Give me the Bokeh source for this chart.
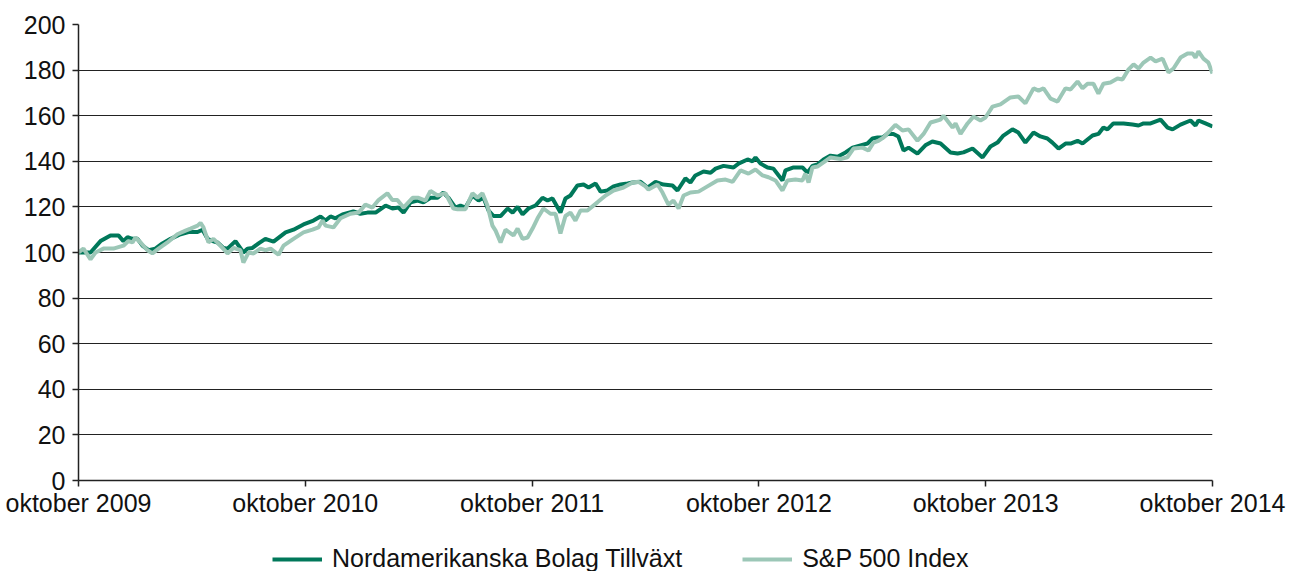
from bokeh.plotting import figure
from bokeh.layouts import column
from bokeh.models import FixedTicker, Legend, LegendItem, Range1d
from bokeh.embed import file_html
from bokeh.resources import INLINE

# decimal years and index values
fund_t = [2009.750, 2009.803, 2009.847, 2009.891, 2009.926, 2009.948, 2009.966, 2009.988, 2010.010, 2010.032,
          2010.059, 2010.089, 2010.120, 2010.156, 2010.200, 2010.235, 2010.275, 2010.297, 2010.319, 2010.341,
          2010.363, 2010.389, 2010.407, 2010.442, 2010.477, 2010.495, 2010.517, 2010.544, 2010.574, 2010.610,
          2010.663, 2010.698, 2010.742, 2010.786, 2010.817, 2010.839, 2010.861, 2010.883, 2010.914, 2010.962,
          2010.993, 2011.024, 2011.060, 2011.104, 2011.134, 2011.161, 2011.183, 2011.214, 2011.245, 2011.271,
          2011.302, 2011.333, 2011.359, 2011.381, 2011.412, 2011.434, 2011.456, 2011.487, 2011.514, 2011.536,
          2011.558, 2011.580, 2011.611, 2011.642, 2011.664, 2011.686, 2011.708, 2011.734, 2011.765, 2011.796,
          2011.818, 2011.840, 2011.875, 2011.897, 2011.919, 2011.950, 2011.977, 2011.999, 2012.030, 2012.052,
          2012.082, 2012.109, 2012.140, 2012.171, 2012.193, 2012.228, 2012.259, 2012.294, 2012.329, 2012.369,
          2012.391, 2012.426, 2012.448, 2012.470, 2012.506, 2012.537, 2012.559, 2012.594, 2012.638, 2012.660,
          2012.700, 2012.722, 2012.735, 2012.757, 2012.788, 2012.814, 2012.854, 2012.867, 2012.903, 2012.942,
          2012.964, 2012.986, 2013.008, 2013.035, 2013.066, 2013.097, 2013.132, 2013.163, 2013.198, 2013.229,
          2013.251, 2013.273, 2013.295, 2013.317, 2013.343, 2013.365, 2013.388, 2013.410, 2013.449, 2013.484,
          2013.515, 2013.551, 2013.595, 2013.626, 2013.652, 2013.692, 2013.736, 2013.771, 2013.802, 2013.828,
          2013.868, 2013.894, 2013.925, 2013.961, 2013.991, 2014.022, 2014.044, 2014.071, 2014.102, 2014.124,
          2014.155, 2014.177, 2014.221, 2014.247, 2014.269, 2014.287, 2014.313, 2014.358, 2014.397, 2014.424,
          2014.446, 2014.477, 2014.521, 2014.552, 2014.574, 2014.609, 2014.653, 2014.675, 2014.688, 2014.719,
          2014.750]
fund_v = [100, 100, 105, 107.5, 107.5, 105, 106.7, 106, 106, 103,
          101, 101.7, 104, 106, 108, 109, 109, 110, 106, 105,
          104.4, 102, 101.7, 105, 100, 101.7, 102, 104, 106, 104.8,
          108.8, 110, 112.3, 114, 115.8, 114, 115.8, 115, 116.7, 118,
          117, 117.5, 117.5, 120.6, 119.3, 119.7, 117.5, 122, 122.8, 122,
          124, 124, 126.3, 124, 119.7, 120.6, 119.7, 125, 122.8, 124,
          118.4, 116, 116, 119.3, 117.5, 120, 116.7, 119.3, 120.6, 124,
          122.8, 123.7, 117.5, 123.7, 125, 129.4, 129.8, 128.5, 130.3, 126.7,
          127.2, 129, 129.8, 130.3, 130.7, 131, 128.5, 131, 129.8, 129.4,
          127.2, 132.5, 130.7, 133.8, 135.5, 135, 136.8, 138, 137.3, 139,
          140.8, 140, 141.7, 139, 137.3, 136.8, 131.6, 136, 137.3, 137.3,
          135, 138, 138.6, 140.8, 142.5, 142, 143.9, 146, 147, 147.8,
          150, 150.4, 150.4, 152, 152, 150.9, 144.7, 146, 143.4, 147,
          148.7, 147.8, 143.9, 143.4, 143.9, 145.6, 141.7, 146.5, 148.2, 151.3,
          154, 152.6, 148.2, 152.6, 150.9, 150, 148.2, 145.6, 147.8, 147.8,
          149, 147.8, 151.3, 152, 154.8, 154, 156.6, 156.6, 156.1, 155.7,
          156.6, 156.6, 158.3, 154.8, 154, 156.1, 157.9, 155.7, 157.9, 156.6,
          155.3]

sp_t = [2009.750, 2009.772, 2009.803, 2009.825, 2009.860, 2009.904, 2009.948, 2009.970, 2009.988, 2010.001,
        2010.023, 2010.054, 2010.076, 2010.103, 2010.142, 2010.186, 2010.222, 2010.244, 2010.275, 2010.288,
        2010.301, 2010.323, 2010.345, 2010.376, 2010.407, 2010.433, 2010.464, 2010.477, 2010.500, 2010.522,
        2010.552, 2010.574, 2010.597, 2010.632, 2010.654, 2010.698, 2010.742, 2010.782, 2010.808, 2010.826,
        2010.839, 2010.874, 2010.905, 2010.949, 2010.985, 2011.015, 2011.046, 2011.073, 2011.112, 2011.134,
        2011.156, 2011.183, 2011.223, 2011.249, 2011.280, 2011.302, 2011.333, 2011.368, 2011.403, 2011.421,
        2011.456, 2011.487, 2011.509, 2011.531, 2011.553, 2011.575, 2011.589, 2011.611, 2011.633, 2011.668,
        2011.686, 2011.708, 2011.730, 2011.752, 2011.774, 2011.800, 2011.831, 2011.853, 2011.875, 2011.897,
        2011.919, 2011.941, 2011.963, 2011.994, 2012.038, 2012.074, 2012.109, 2012.153, 2012.193, 2012.219,
        2012.250, 2012.263, 2012.303, 2012.325, 2012.351, 2012.373, 2012.396, 2012.418, 2012.448, 2012.484,
        2012.523, 2012.567, 2012.603, 2012.634, 2012.669, 2012.704, 2012.735, 2012.766, 2012.792, 2012.823,
        2012.854, 2012.876, 2012.911, 2012.942, 2012.955, 2012.969, 2012.986, 2013.008, 2013.035, 2013.066,
        2013.110, 2013.140, 2013.167, 2013.207, 2013.233, 2013.255, 2013.277, 2013.299, 2013.352, 2013.383,
        2013.410, 2013.449, 2013.476, 2013.507, 2013.551, 2013.564, 2013.604, 2013.617, 2013.639, 2013.670,
        2013.696, 2013.727, 2013.749, 2013.780, 2013.815, 2013.859, 2013.894, 2013.925, 2013.961, 2013.983,
        2014.005, 2014.036, 2014.067, 2014.102, 2014.124, 2014.155, 2014.177, 2014.199, 2014.225, 2014.247,
        2014.269, 2014.300, 2014.331, 2014.353, 2014.380, 2014.402, 2014.424, 2014.446, 2014.477, 2014.499,
        2014.530, 2014.556, 2014.578, 2014.609, 2014.640, 2014.662, 2014.675, 2014.688, 2014.710, 2014.732,
        2014.750]
sp_v = [100, 101.7, 97, 100, 101.7, 101.7, 103, 105, 104.4, 106.6,
        104.4, 101, 99.6, 101.7, 104.4, 108, 109.6, 110.5, 111.8, 113,
        111, 104.4, 106, 103, 99.6, 102, 101, 95.6, 100, 99.6,
        101.7, 101, 101.7, 99, 103, 106, 108.8, 110, 111, 114,
        111.8, 111, 115, 117, 117.5, 121, 119.7, 123, 126, 123,
        123, 119.7, 124, 124, 122.8, 127, 125, 126, 119.3, 119,
        119, 126, 124, 126, 120.6, 111.8, 109.6, 104.4, 110, 107.5,
        110.5, 106, 106.6, 110.5, 115, 119.3, 117, 117, 108.3, 116,
        117.5, 114, 118.4, 118.4, 122, 125, 127.2, 128.5, 130.7, 131,
        129, 127.6, 129.8, 126.3, 121, 122.8, 119.3, 125, 126.3, 126.7,
        129, 131.6, 132, 131, 136, 134.6, 136.4, 133.8, 133, 131.6,
        127.2, 131.6, 132, 131.6, 134.6, 130.7, 137.3, 137.7, 139.5, 141.7,
        141, 141.7, 145.6, 146, 144.7, 148.2, 149, 150.4, 156, 153.5,
        154, 149, 152, 157, 158.3, 160, 154.8, 156.6, 152, 156.6,
        159.6, 157.9, 159.2, 164, 165, 168, 168.4, 165.4, 172, 171,
        172, 167.5, 166.2, 172, 171.5, 175, 172, 174, 174, 169.7,
        174, 174.6, 176.3, 175.9, 180.3, 182.5, 180.7, 183.3, 185.5, 183.8,
        185, 179, 180.7, 185.5, 187.3, 187.3, 185.5, 188.2, 185, 183.3,
        178.5]

series_names = ["Nordamerikanska Bolag Tillväxt", "S&P 500 Index"]
tick_years = [2009, 2010, 2011, 2012, 2013, 2014]
tick_labels = ["oktober 2009", "oktober 2010", "oktober 2011", "oktober 2012", "oktober 2013", "oktober 2014"]
y_ticks = [0, 20, 40, 60, 80, 100, 120, 140, 160, 180, 200]

START = 2009.75
fund_m = [(t - START) * 12 for t in fund_t]
sp_m = [(t - START) * 12 for t in sp_t]
tick_m = [int(round((y + 0.75 - START) * 12)) for y in tick_years]

FONT = "Liberation Sans"
DARK = "#00785a"
LIGHT = "#9cc7b7"

p = figure(width=1290, height=530, output_backend="svg", toolbar_location=None,
           x_range=Range1d(0, 60), y_range=Range1d(0, 200),
           min_border_left=78, min_border_right=78, min_border_top=24, min_border_bottom=50)
p.outline_line_color = None
p.background_fill_color = "white"

r1 = p.line(fund_m, fund_v, line_color=DARK, line_width=4)
r2 = p.line(sp_m, sp_v, line_color=LIGHT, line_width=4)

p.xaxis.ticker = FixedTicker(ticks=tick_m)
p.xaxis.major_label_overrides = {m: lab for m, lab in zip(tick_m, tick_labels)}
p.yaxis.ticker = FixedTicker(ticks=y_ticks)
for ax in (p.xaxis, p.yaxis):
    ax.axis_line_color = "#222222"
    ax.axis_line_width = 1.5
    ax.major_tick_line_color = "#222222"
    ax.major_tick_line_width = 1.5
    ax.major_tick_out = 6
    ax.major_tick_in = 0
    ax.minor_tick_line_color = None
    ax.major_label_text_font = FONT
    ax.major_label_text_font_size = "25px"
    ax.major_label_text_color = "#111111"
p.yaxis.major_label_standoff = 7
p.xaxis.major_label_standoff = 2

p.xgrid.grid_line_color = None
p.ygrid.ticker = FixedTicker(ticks=y_ticks)
p.ygrid.grid_line_color = "#222222"
p.ygrid.grid_line_width = 1.2

# legend strip below the chart (single-point lines: nothing drawn, only the legend keys)
lg = figure(width=1290, height=41, output_backend="svg", toolbar_location=None,
            x_range=Range1d(0, 1), y_range=Range1d(0, 1),
            x_axis_location=None, y_axis_location=None,
            min_border_left=0, min_border_right=0, min_border_top=0, min_border_bottom=0)
lg.outline_line_color = None
lg.xgrid.grid_line_color = None
lg.ygrid.grid_line_color = None
d1 = lg.line([fund_m[0]], [fund_v[0]], line_color=DARK, line_width=4)
d2 = lg.line([sp_m[0]], [sp_v[0]], line_color=LIGHT, line_width=4)

legend = Legend(items=[LegendItem(label=series_names[0], renderers=[d1]),
                       LegendItem(label=series_names[1], renderers=[d2])],
                orientation="horizontal", location=(194, -2),
                label_text_font=FONT, label_text_font_size="25px", label_text_color="#111111",
                label_height=24, glyph_width=50, glyph_height=24, label_standoff=10, spacing=60,
                padding=0, margin=0, border_line_color=None, background_fill_alpha=0)
lg.add_layout(legend, "center")

open("out.html", "w").write(file_html(column(p, lg), INLINE))
